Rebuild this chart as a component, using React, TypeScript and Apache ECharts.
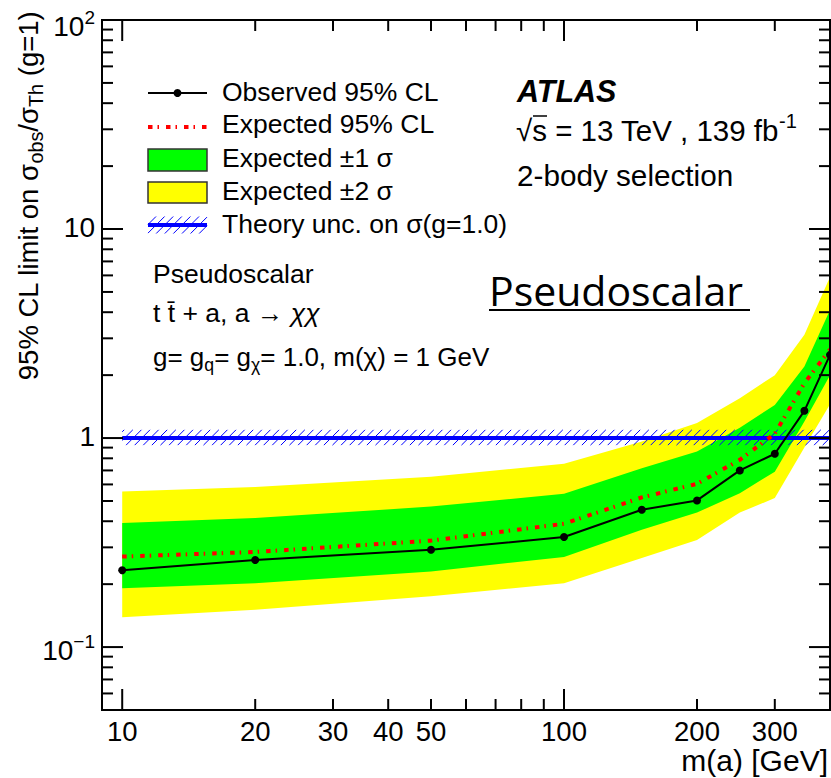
import React, { useEffect, useRef } from "react";
import * as echarts from "echarts";

// ---------------- data ----------------
const massPoints = [10, 20, 50, 100, 150, 200, 250, 300, 350, 400];
const observedLimit = [0.233, 0.261, 0.292, 0.336, 0.454, 0.503, 0.7, 0.841, 1.35, 2.5];
const expectedLimit = [0.271, 0.285, 0.323, 0.389, 0.52, 0.604, 0.787, 1.05, 1.83, 2.65];
const oneSigmaUp = [0.392, 0.414, 0.47, 0.541, 0.718, 0.863, 1.12, 1.44, 2.2, 4.1];
const oneSigmaDown = [0.191, 0.202, 0.23, 0.27, 0.364, 0.44, 0.545, 0.69, 1.2, 2.0];
const twoSigmaUp = [0.555, 0.583, 0.653, 0.754, 0.964, 1.18, 1.55, 2.0, 3.12, 5.9];
const twoSigmaDown = [0.139, 0.151, 0.175, 0.202, 0.267, 0.325, 0.44, 0.516, 0.9, 1.45];
const theoryMass = [10, 400];
const theoryCentral = [1, 1];
const theoryUp = [1.095, 1.095];
const theoryDown = [0.925, 0.925];

const xRange = [9, 400];
const yRange = [0.05, 100];
const xMajorTicks = [10, 100];
const xMinorTicks = [20, 30, 40, 50, 60, 70, 80, 90, 200, 300];
const xTickValues = [10, 20, 30, 40, 50, 100, 200, 300];
const xTickTexts = ["10", "20", "30", "40", "50", "100", "200", "300"];
const yMajorTicks = [0.1, 1, 10];
const yMinorTicks = [
  0.06, 0.07, 0.08, 0.09, 0.2, 0.3, 0.4, 0.5, 0.6, 0.7, 0.8, 0.9, 2, 3, 4, 5, 6, 7, 8, 9,
  20, 30, 40, 50, 60, 70, 80, 90,
];
const yTickValues = [0.1, 1, 10, 100];
const yTickBase = ["10", "1", "10", "10"];
const yTickExponent = ["−1", "", "", "2"];

const FONT = "'Liberation Sans', Arial, Helvetica, sans-serif";

function bandRenderer(up: number[], down: number[], color: string) {
  return (params: any, api: any) => {
    if (params.dataIndex !== 0) return null;
    const pts: number[][] = [];
    for (let i = 0; i < massPoints.length; i++) pts.push(api.coord([massPoints[i], up[i]]));
    for (let i = massPoints.length - 1; i >= 0; i--) pts.push(api.coord([massPoints[i], down[i]]));
    return { type: "polygon", shape: { points: pts }, style: { fill: color, stroke: null } };
  };
}

function hatchRenderer(params: any, api: any) {
  if (params.dataIndex !== 0) return null;
  const a = api.coord([theoryMass[0], theoryUp[0]]);
  const b = api.coord([theoryMass[1], theoryDown[1]]);
  const L = a[0], T = a[1], R = b[0], B = b[1];
  const h = B - T;
  const step = 8.6;
  const children: any[] = [];
  for (let x0 = L - h + 2; x0 < R; x0 += step) {
    let t0 = 0, t1 = 1;
    if (x0 < L) t0 = (L - x0) / h;
    if (x0 + h > R) t1 = (R - x0) / h;
    if (t1 <= t0) continue;
    children.push({
      type: "line",
      shape: { x1: x0 + h * t0, y1: B - h * t0, x2: x0 + h * t1, y2: B - h * t1 },
      style: { stroke: "#0000ff", lineWidth: 1 },
    });
  }
  return { type: "group", children };
}

function frameRenderer(params: any, api: any) {
  if (params.dataIndex !== 0) return null;
  const tl = api.coord([xRange[0], yRange[1]]);
  const br = api.coord([xRange[1], yRange[0]]);
  const L = tl[0], T = tl[1], R = br[0], B = br[1];
  const children: any[] = [];
  const ts = { stroke: "#000", lineWidth: 2 };
  const xt = (v: number, len: number) => {
    const x = api.coord([v, yRange[0]])[0];
    children.push({ type: "line", shape: { x1: x, y1: B, x2: x, y2: B - len }, style: ts });
    children.push({ type: "line", shape: { x1: x, y1: T, x2: x, y2: T + len }, style: ts });
  };
  const yt = (v: number, len: number) => {
    const y = api.coord([xRange[0], v])[1];
    children.push({ type: "line", shape: { x1: L, y1: y, x2: L + len, y2: y }, style: ts });
    children.push({ type: "line", shape: { x1: R, y1: y, x2: R - len, y2: y }, style: ts });
  };
  xMajorTicks.forEach((v) => xt(v, 21));
  xMinorTicks.forEach((v) => xt(v, 11));
  yMajorTicks.forEach((v) => yt(v, 21));
  yMinorTicks.forEach((v) => yt(v, 11));
  children.push({
    type: "rect",
    shape: { x: L, y: T, width: R - L, height: B - T },
    style: { fill: "transparent", stroke: "#000", lineWidth: 2 },
  });
  xTickValues.forEach((v, i) => {
    const x = api.coord([v, yRange[0]])[0];
    children.push({
      type: "text",
      x,
      y: B + 21,
      style: {
        text: xTickTexts[i],
        fontSize: 27.5,
        fontFamily: FONT,
        fill: "#000",
        align: "center",
        verticalAlign: "middle",
      },
    });
  });
  yTickValues.forEach((v, i) => {
    const y = api.coord([xRange[0], v])[1];
    const exp = yTickExponent[i];
    const text = exp ? `{b|${yTickBase[i]}}{s|${exp}}` : `{b|${yTickBase[i]}}`;
    const shift = i === 0 ? 3 : i === 3 ? 6 : -2;
    children.push({
      type: "text",
      x: L - 7,
      y: y + shift,
      style: {
        text,
        fill: "#000",
        align: "right",
        verticalAlign: "middle",
        rich: {
          b: { fontSize: 28, fontFamily: FONT, lineHeight: 36, verticalAlign: "middle" },
          s: { fontSize: 19, fontFamily: FONT, lineHeight: 19, verticalAlign: "top" },
        },
      },
    });
  });
  return { type: "group", children };
}

function txt(x: number, y: number, text: string, size: number, extra: any = {}) {
  return {
    type: "text",
    x,
    y,
    z: 100,
    style: {
      text,
      fontSize: size,
      fontFamily: FONT,
      fill: "#000",
      align: "left",
      verticalAlign: "middle",
      ...extra,
    },
  };
}

export default function App() {
  const ref = useRef<HTMLDivElement>(null);
  useEffect(() => {
    if (!ref.current) return;
    const chart = echarts.init(ref.current, undefined, { renderer: "svg" });
    const richMain = (size: number, sub = 0.68) => ({
      m: { fontSize: size, fontFamily: FONT, lineHeight: size + 8, verticalAlign: "middle" },
      s: { fontSize: size * sub, fontFamily: FONT, lineHeight: size * sub, verticalAlign: "bottom" },
      u: { fontSize: size * sub, fontFamily: FONT, lineHeight: size * sub, verticalAlign: "top" },
      i: { fontSize: size, fontFamily: FONT, fontStyle: "italic", lineHeight: size + 8, verticalAlign: "middle" },
    });
    const legendX1 = 148, legendX2 = 207;
    const option: any = {
      animation: false,
      grid: { left: 102, right: 1, top: 20, bottom: 68, containLabel: false },
      xAxis: {
        type: "log",
        logBase: 10,
        min: xRange[0],
        max: xRange[1],
        axisLine: { show: false },
        axisTick: { show: false },
        axisLabel: { show: false },
        splitLine: { show: false },
      },
      yAxis: {
        type: "log",
        logBase: 10,
        min: yRange[0],
        max: yRange[1],
        axisLine: { show: false },
        axisTick: { show: false },
        axisLabel: { show: false },
        splitLine: { show: false },
      },
      series: [
        {
          type: "custom",
          name: "Expected ±2 σ",
          renderItem: bandRenderer(twoSigmaUp, twoSigmaDown, "#ffff00"),
          data: massPoints.map((m, i) => [m, twoSigmaDown[i], twoSigmaUp[i]]),
          encode: { x: 0, y: [1, 2] },
          z: 1,
          silent: true,
        },
        {
          type: "custom",
          name: "Expected ±1 σ",
          renderItem: bandRenderer(oneSigmaUp, oneSigmaDown, "#00ff00"),
          data: massPoints.map((m, i) => [m, oneSigmaDown[i], oneSigmaUp[i]]),
          encode: { x: 0, y: [1, 2] },
          z: 2,
          silent: true,
        },
        {
          type: "custom",
          name: "Theory band",
          renderItem: hatchRenderer,
          data: theoryMass.map((m, i) => [m, theoryDown[i], theoryUp[i]]),
          encode: { x: 0, y: [1, 2] },
          z: 3,
          silent: true,
        },
        {
          type: "line",
          name: "Theory unc. on σ(g=1.0)",
          data: theoryMass.map((m, i) => [m, theoryCentral[i]]),
          showSymbol: false,
          symbol: "none",
          lineStyle: { color: "#0000ff", width: 4 },
          z: 4,
          silent: true,
        },
        {
          type: "line",
          name: "Expected 95% CL",
          data: massPoints.map((m, i) => [m, expectedLimit[i]]),
          symbol: "none",
          lineStyle: { color: "#ff0000", width: 4, type: [4.5, 5, 1.5, 7], cap: "butt" },
          z: 5,
          silent: true,
        },
        {
          type: "line",
          name: "Observed 95% CL",
          data: massPoints.map((m, i) => [m, observedLimit[i]]),
          symbol: "circle",
          symbolSize: 8,
          itemStyle: { color: "#000" },
          lineStyle: { color: "#000", width: 2 },
          z: 6,
          silent: true,
        },
        {
          type: "custom",
          name: "frame",
          renderItem: frameRenderer,
          data: [[10, 1]],
          clip: false,
          z: 10,
          silent: true,
        },
      ],
      graphic: [
        // legend symbols
        { type: "line", z: 100, shape: { x1: legendX1, y1: 93, x2: legendX2, y2: 93 }, style: { stroke: "#000", lineWidth: 2 } },
        { type: "circle", z: 100, shape: { cx: (legendX1 + legendX2) / 2, cy: 93, r: 4 }, style: { fill: "#000" } },
        {
          type: "line",
          z: 100,
          shape: { x1: legendX1, y1: 127, x2: legendX2, y2: 127 },
          style: { stroke: "#ff0000", lineWidth: 4, lineDash: [4.5, 5, 1.5, 7], lineCap: "butt" },
        },
        { type: "rect", z: 100, shape: { x: legendX1, y: 149, width: legendX2 - legendX1, height: 22 }, style: { fill: "#00ff00", stroke: "#333", lineWidth: 1.5 } },
        { type: "rect", z: 100, shape: { x: legendX1, y: 182, width: legendX2 - legendX1, height: 21 }, style: { fill: "#ffff00", stroke: "#333", lineWidth: 1.5 } },
        ...[0, 1, 2, 3, 4, 5, 6, 7].map((k) => {
          const x0 = legendX1 - 9 + k * 8.6;
          const h = 17;
          const l = Math.max(x0, legendX1), r = Math.min(x0 + h, legendX2);
          return {
            type: "line",
            z: 100,
            shape: { x1: l, y1: 233.5 - (l - x0), x2: r, y2: 233.5 - (r - x0) },
            style: { stroke: "#0000ff", lineWidth: 1 },
          };
        }),
        { type: "line", z: 101, shape: { x1: legendX1, y1: 225, x2: legendX2, y2: 225 }, style: { stroke: "#0000ff", lineWidth: 4 } },
        // legend text
        txt(222, 92, "Observed 95% CL", 26.5),
        txt(222, 124, "Expected 95% CL", 26.5),
        txt(222, 158, "Expected ±1 σ", 26.5),
        txt(222, 191, "Expected ±2 σ", 26.5),
        txt(222, 224, "Theory unc. on σ(g=1.0)", 26.5),
        // ATLAS label
        txt(517, 91, "ATLAS", 30.5, { fontWeight: "bold", fontStyle: "italic" }),
        txt(516, 130, "{m|√s = 13 TeV , 139 fb}{u|-1}", 29.5, { rich: richMain(29.5) }),
        { type: "line", z: 100, shape: { x1: 533, y1: 116, x2: 547, y2: 116 }, style: { stroke: "#000", lineWidth: 1.5 } },
        txt(517, 175, "2-body selection", 29.7),
        // left annotations
        txt(153, 274, "Pseudoscalar", 26.5),
        txt(153, 313, "{m|t t\u0304 + a, a → }{i|χχ}", 26.5, { rich: richMain(26.5) }),
        txt(153, 357, "{m|g= g}{s|q}{m|= g}{s|χ}{m|= 1.0, m(χ) = 1 GeV}", 26, { rich: richMain(26) }),
        // big title
        {
          type: "text",
          x: 489,
          y: 290,
          z: 100,
          style: {
            text: "Pseudoscalar",
            fontSize: 41,
            fontFamily: "'Open Sans', 'Noto Sans', sans-serif",
            fill: "#000",
            align: "left",
            verticalAlign: "middle",
          },
        },
        { type: "line", z: 100, shape: { x1: 489, y1: 310, x2: 750, y2: 310 }, style: { stroke: "#000", lineWidth: 2 } },
        // axis titles
        {
          type: "text",
          x: 828,
          y: 760,
          z: 100,
          style: { text: "m(a) [GeV]", fontSize: 30, fontFamily: FONT, fill: "#000", align: "right", verticalAlign: "middle" },
        },
        {
          type: "text",
          x: 28,
          y: 196,
          rotation: Math.PI / 2,
          z: 100,
          style: {
            text: "{m|95% CL limit on σ}{s|obs}{m|/σ}{s|Th}{m| (g=1)}",
            fill: "#000",
            align: "center",
            verticalAlign: "middle",
            rich: richMain(27.5, 0.72),
          },
        },
      ],
    };
    chart.setOption(option);
    return () => chart.dispose();
  }, []);
  return (
    <div
      ref={ref}
      style={{ position: "fixed", left: 0, top: 0, width: 831, height: 778, background: "#fff" }}
    />
  );
}
